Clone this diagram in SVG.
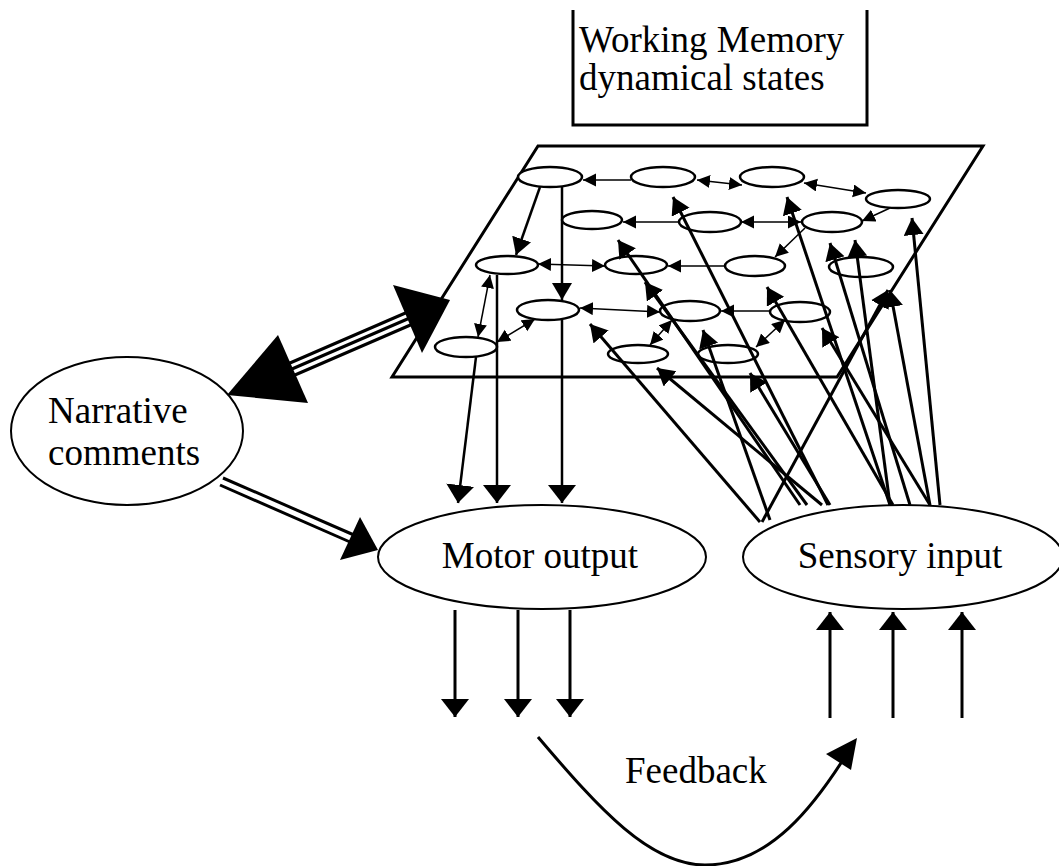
<svg xmlns="http://www.w3.org/2000/svg" width="1059" height="866" viewBox="0 0 1059 866">
<style>
text{font-family:"Liberation Serif","Times New Roman",serif;font-size:37px;fill:#000}
.el{fill:#fff;stroke:#000;stroke-width:2}
.ne{fill:#fff;stroke:#000;stroke-width:2.5}
.thin{stroke:#000;stroke-width:1.5;fill:none}
.med{stroke:#000;stroke-width:2.5;fill:none}
.thk{stroke:#000;stroke-width:3;fill:none}
</style>
<defs>
<marker id="big" markerUnits="userSpaceOnUse" markerWidth="20" markerHeight="30" refX="18" refY="14" orient="auto"><path d="M0,0 L18,14 L0,28 z" fill="#000"/></marker>
<marker id="mid" markerUnits="userSpaceOnUse" markerWidth="20" markerHeight="22" refX="17" refY="10" orient="auto"><path d="M0,0 L17,10 L0,20 z" fill="#000"/></marker>
<marker id="sm" markerUnits="userSpaceOnUse" markerWidth="15" markerHeight="15" refX="13" refY="6.5" orient="auto-start-reverse"><path d="M0,0 L13,6.5 L0,13 z" fill="#000"/></marker>
</defs>

<g id="wm-box">
<path d="M573,10 V125 H867 V10" fill="none" stroke="#000" stroke-width="3"/>
<text x="579" y="52">Working Memory</text>
<text x="579" y="90">dynamical states</text>
</g>

<g id="network-plane">
<polygon points="538,146 983,146 837,377 392,377" fill="#fff" stroke="#000" stroke-width="3"/>
</g>

<g id="network-nodes">
<ellipse class="ne" cx="550" cy="177" rx="32" ry="10"/>
<ellipse class="ne" cx="663" cy="177" rx="32" ry="10"/>
<ellipse class="ne" cx="772" cy="177" rx="32" ry="10"/>
<ellipse class="ne" cx="898" cy="199" rx="32" ry="9"/>
<ellipse class="ne" cx="592" cy="220" rx="30" ry="9"/>
<ellipse class="ne" cx="710" cy="222" rx="31" ry="10"/>
<ellipse class="ne" cx="832" cy="222" rx="30" ry="10"/>
<ellipse class="ne" cx="507" cy="265" rx="31" ry="9"/>
<ellipse class="ne" cx="636" cy="265" rx="31" ry="9"/>
<ellipse class="ne" cx="755" cy="266" rx="30" ry="10"/>
<ellipse class="ne" cx="861" cy="267" rx="32" ry="10"/>
<ellipse class="ne" cx="548" cy="310" rx="31" ry="10"/>
<ellipse class="ne" cx="690" cy="311" rx="30" ry="10"/>
<ellipse class="ne" cx="800" cy="312" rx="30" ry="10"/>
<ellipse class="ne" cx="466" cy="347" rx="31" ry="10"/>
<ellipse class="ne" cx="638" cy="354" rx="30" ry="9"/>
<ellipse class="ne" cx="728" cy="354" rx="30" ry="9"/>
</g>

<g id="narrative">
<ellipse class="el" cx="127" cy="431" rx="116" ry="74"/>
<text x="48" y="423">Narrative</text>
<text x="48" y="465">comments</text>
</g>

<g id="motor-output">
<ellipse class="el" cx="542" cy="557" rx="164" ry="52"/>
<text x="540" y="568" text-anchor="middle">Motor output</text>
</g>

<g id="sensory-input">
<ellipse class="el" cx="903" cy="557" rx="160" ry="52"/>
<text x="900" y="568" text-anchor="middle">Sensory input</text>
</g>

<g id="feedback-label">
<text x="625" y="783">Feedback</text>
</g>

<g id="connectors">
<!-- inner network edges -->
<line class="thin" x1="631" y1="180" x2="583" y2="180" marker-end="url(#sm)"/>
<line class="thin" x1="697" y1="180" x2="742" y2="185" marker-start="url(#sm)" marker-end="url(#sm)"/>
<line class="thin" x1="804" y1="183" x2="866" y2="193" marker-start="url(#sm)" marker-end="url(#sm)"/>
<line class="med" x1="540" y1="187" x2="516" y2="255" marker-end="url(#mid)"/>
<line class="med" x1="562" y1="187" x2="562" y2="300" marker-end="url(#mid)"/>
<line class="thin" x1="680" y1="222" x2="623" y2="222" marker-end="url(#sm)"/>
<line class="thin" x1="741" y1="222" x2="801" y2="222" marker-start="url(#sm)" marker-end="url(#sm)"/>
<line class="thin" x1="890" y1="208" x2="862" y2="221" marker-end="url(#sm)"/>
<line class="thin" x1="538" y1="264" x2="605" y2="266" marker-start="url(#sm)" marker-end="url(#sm)"/>
<line class="thin" x1="725" y1="266" x2="668" y2="266" marker-end="url(#sm)"/>
<line class="thin" x1="490" y1="275" x2="478" y2="337" marker-start="url(#sm)" marker-end="url(#sm)"/>
<line class="thin" x1="535" y1="319" x2="497" y2="342" marker-start="url(#sm)" marker-end="url(#sm)"/>
<line class="thin" x1="580" y1="308" x2="660" y2="312" marker-start="url(#sm)" marker-end="url(#sm)"/>
<line class="thin" x1="770" y1="311" x2="721" y2="311" marker-end="url(#sm)"/>
<line class="thin" x1="805" y1="228" x2="775" y2="257" marker-end="url(#sm)"/>
<line class="thin" x1="785" y1="320" x2="756" y2="347" marker-start="url(#sm)" marker-end="url(#sm)"/>
<line class="thin" x1="650" y1="345" x2="672" y2="320" marker-start="url(#sm)" marker-end="url(#sm)"/>

<!-- sensory input to network -->
<line class="thk" x1="760" y1="522" x2="590" y2="324" marker-end="url(#mid)"/>
<line class="thk" x1="762" y1="522" x2="888" y2="290" marker-end="url(#mid)"/>
<line class="thk" x1="800" y1="505" x2="618" y2="240" marker-end="url(#mid)"/>
<line class="thk" x1="828" y1="505" x2="673" y2="197" marker-end="url(#mid)"/>
<line class="thk" x1="890" y1="505" x2="787" y2="197" marker-end="url(#mid)"/>
<line class="thk" x1="940" y1="505" x2="912" y2="218" marker-end="url(#mid)"/>
<line class="thk" x1="930" y1="505" x2="822" y2="328" marker-end="url(#mid)"/>
<line class="thk" x1="910" y1="505" x2="830" y2="243" marker-end="url(#mid)"/>
<line class="thk" x1="893" y1="505" x2="767" y2="287" marker-end="url(#mid)"/>
<line class="thk" x1="770" y1="520" x2="703" y2="330" marker-end="url(#mid)"/>
<line class="thk" x1="822" y1="505" x2="657" y2="368" marker-end="url(#mid)"/>
<line class="thk" x1="830" y1="505" x2="750" y2="373" marker-end="url(#mid)"/>
<line class="thk" x1="807" y1="505" x2="645" y2="282" marker-end="url(#mid)"/>
<line class="thk" x1="930" y1="505" x2="890" y2="290" marker-end="url(#mid)"/>
<line class="thk" x1="890" y1="505" x2="855" y2="240" marker-end="url(#mid)"/>

<!-- network to motor output -->
<line class="med" x1="476" y1="357" x2="458" y2="503" marker-end="url(#big)"/>
<line class="med" x1="497" y1="275" x2="497" y2="503" marker-end="url(#big)"/>
<line class="med" x1="562" y1="320" x2="562" y2="503" marker-end="url(#big)"/>

<!-- motor output out -->
<line class="thk" x1="455" y1="610" x2="455" y2="717" marker-end="url(#big)"/>
<line class="thk" x1="518" y1="610" x2="518" y2="717" marker-end="url(#big)"/>
<line class="thk" x1="570" y1="610" x2="570" y2="717" marker-end="url(#big)"/>

<!-- sensory input in -->
<line class="thk" x1="830" y1="718" x2="830" y2="612" marker-end="url(#big)"/>
<line class="thk" x1="893" y1="718" x2="893" y2="612" marker-end="url(#big)"/>
<line class="thk" x1="962" y1="718" x2="962" y2="612" marker-end="url(#big)"/>

<!-- feedback -->
<path class="thk" d="M538,737 C600,810 650,865 705,865 C770,865 815,805 848,752"/>
<polygon points="857,738 826,754 851,770" fill="#000"/>

<!-- narrative <-> working memory (triple line) -->
<line class="thk" x1="283" y1="366" x2="417" y2="308"/>
<line class="thk" x1="285" y1="372" x2="419" y2="314"/>
<line class="thk" x1="288" y1="378" x2="422" y2="320"/>
<polygon points="227,395 278,335 308,403" fill="#000"/>
<polygon points="450,300 393,285 422,353" fill="#000"/>

<!-- narrative -> motor (double line) -->
<line class="thk" x1="223" y1="478" x2="354" y2="535"/>
<line class="thk" x1="220" y1="485" x2="350" y2="542"/>
<polygon points="378,550 360,517 340,560" fill="#000"/>
</g>
</svg>
